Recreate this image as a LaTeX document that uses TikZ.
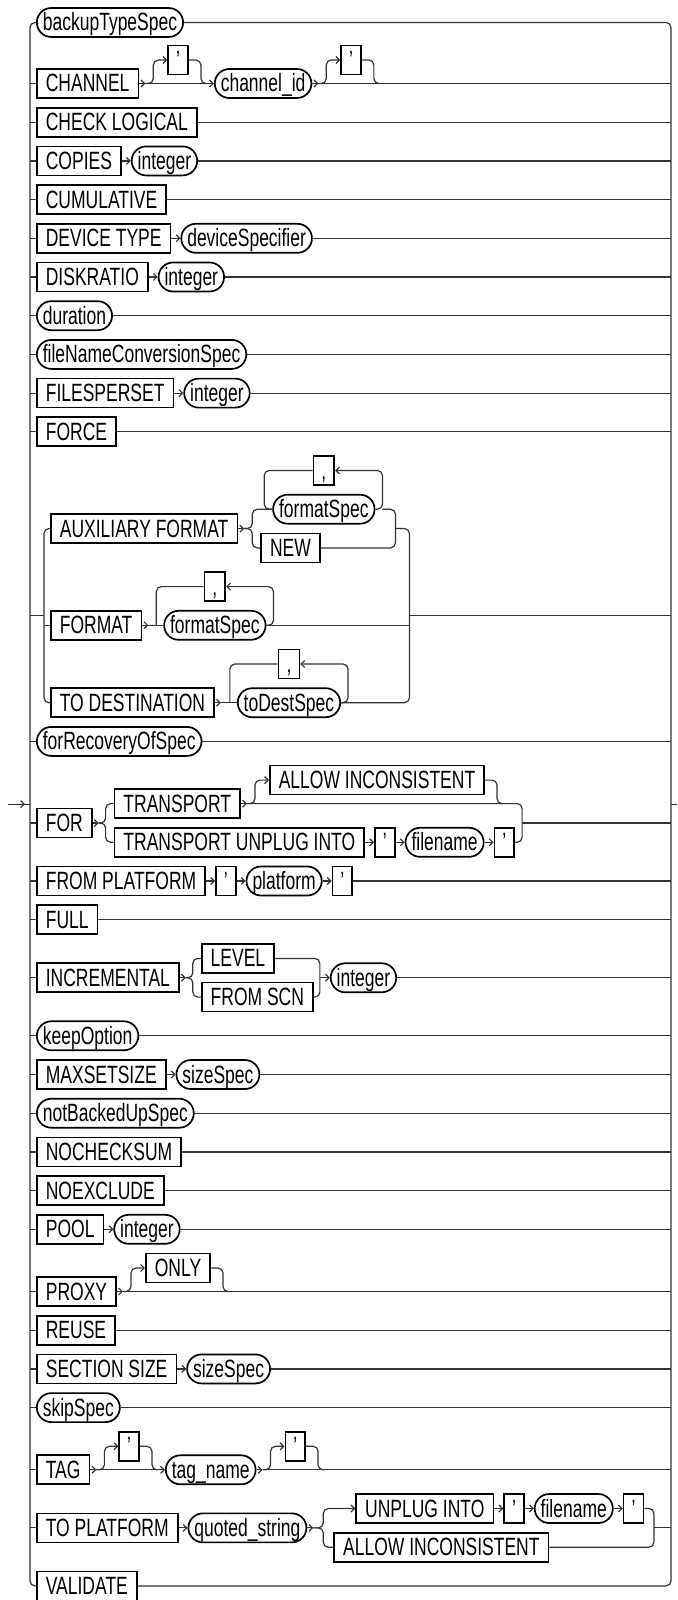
\documentclass[tikz,border=0pt]{standalone}
\usepackage{fontspec}
\setmainfont{Liberation Sans}[FakeStretch=0.7]
\usetikzlibrary{arrows.meta,calc}
\newcommand\rrfont{\fontsize{25pt}{27pt}\selectfont}
\def\xL{30}\def\xR{671}\def\xo{36}\def\gx{50}\def\GL{44}
\def\yyA{22.5}\def\yyBq{60}\def\yyB{83.5}\def\yyC{122.2}\def\yyD{160.9}\def\yyE{199.6}
\def\yyF{238.3}\def\yyG{277}\def\yyH{315.7}\def\yyI{354.4}\def\yyJ{393.1}\def\yyK{431.8}
\def\yyAUXc{470.5}\def\yyAFS{509.2}\def\yyAUX{528.55}\def\yyNEW{547.9}
\def\yyFMTc{586.6}\def\yyFMT{625.3}\def\yyTDc{664}\def\yyTD{702.7}\def\yyGT{615.6}
\def\yyM{741.4}\def\yyAL{780.1}\def\yyTR{803.6}\def\yyTUI{842.3}\def\yyFOR{823}
\def\yyN{881}\def\yyO{919.7}\def\yyLEV{958.4}\def\yySCN{997.1}\def\yyINC{977.75}
\def\yyP{1035.8}\def\yyQ{1074.5}\def\yyR{1113.2}\def\yyS{1151.9}\def\yyTt{1190.6}
\def\yyU{1229.3}\def\yyON{1268}\def\yyPX{1291.5}\def\yyW{1330.2}\def\yyX{1368.9}
\def\yyY{1407.6}\def\yyTGq{1446.3}\def\yyTG{1469.8}\def\yyUP{1508.5}\def\yyALb{1547.2}
\def\yyTP{1527.85}\def\yyV{1585.9}\def\yyT{804.2}\def\tpBR{654}
\newcommand\OptNode[6]{%
  \node[#3] (#2) at ($(#1.east)+(28,#6-#5)$) {#4};
  \draw[ar] (#1.east) -- ++(6,0);
  \draw[rca] ($(#1.east)+(6,0)$) -- ($(#1.east)+(14,0)$) -- ($(#1.east)+(14,#6-#5)$) -- (#2.west);
  \draw[rc] (#2.east) -- ($(#2.east)+(12,0)$) -- ($(#2.east)+(12,#5-#6)$) -- ($(#2.east)+(18,#5-#6)$);
}
\newcommand\Lstub[2]{\draw[ln] (\xL,#2) -- (#1.west);}
\newcommand\Rstub[2]{\draw[ln] (#1.east) -- (\xR,#2);}
\newcommand\Next[4]{\node[#3] (#2) at ($(#1.east)+(9,0)$) {#4};\draw[ar] (#1.east) -- (#2.west);}
\begin{document}
\begin{tikzpicture}[x=1pt,y=-1pt,
  ln/.style={line width=1.2pt,draw=black!80},
  rc/.style={ln,rounded corners=5pt},
  ar/.style={ln,-{Straight Barb[length=3.5pt,width=7pt]}},
  rca/.style={rc,-{Straight Barb[length=3.5pt,width=7pt]}},
  kw/.style={draw=black,line width=1.7pt,rectangle,minimum height=29pt,inner xsep=9pt,inner ysep=0pt,text height=21.5pt,text depth=4.5pt,anchor=west,font=\rrfont},
  nt/.style={kw,rounded corners=14.5pt,inner xsep=6pt},
  q/.style={kw,inner xsep=8pt}]
\useasboundingbox (0,0) rectangle (677,1600);
% outer choice
\node[nt] (bts) at (\xo,\yyA) {backupTypeSpec};
\node[kw] (val) at (\xo,\yyV) {VALIDATE};
\draw[rc] (bts.west) -- (\xL,\yyA) -- (\xL,\yyV) -- (val.west);
\draw[rc] (bts.east) -- (\xR,\yyA) -- (\xR,\yyV) -- (val.east);
\draw[ar] (8,\yyT) -- (25,\yyT);
\draw[ln] (24,\yyT) -- (\xL,\yyT);
\draw[ln] (\xR,\yyT) -- (677,\yyT);
% CHANNEL
\node[kw] (chan) at (\xo,\yyB) {CHANNEL};
\Lstub{chan}{\yyB}
\OptNode{chan}{chq1}{q}{'}{\yyB}{\yyBq}
\node[nt] (chid) at ($(chq1.east)+(25,\yyB-\yyBq)$) {channel\_id};
\draw[ar] ($(chan.east)+(6,0)$) -- (chid.west);
\OptNode{chid}{chq2}{q}{'}{\yyB}{\yyBq}
\draw[ln] ($(chid.east)+(6,0)$) -- (\xR,\yyB);
% simple rows
\node[kw] (chk) at (\xo,\yyC) {CHECK LOGICAL}; \Lstub{chk}{\yyC}\Rstub{chk}{\yyC}
\node[kw] (cop) at (\xo,\yyD) {COPIES}; \Lstub{cop}{\yyD}
\Next{cop}{copi}{nt}{integer}\Rstub{copi}{\yyD}
\node[kw] (cum) at (\xo,\yyE) {CUMULATIVE}; \Lstub{cum}{\yyE}\Rstub{cum}{\yyE}
\node[kw] (dev) at (\xo,\yyF) {DEVICE TYPE}; \Lstub{dev}{\yyF}
\Next{dev}{devs}{nt}{deviceSpecifier}\Rstub{devs}{\yyF}
\node[kw] (dsk) at (\xo,\yyG) {DISKRATIO}; \Lstub{dsk}{\yyG}
\Next{dsk}{dski}{nt}{integer}\Rstub{dski}{\yyG}
\node[nt] (dur) at (\xo,\yyH) {duration}; \Lstub{dur}{\yyH}\Rstub{dur}{\yyH}
\node[nt] (fnc) at (\xo,\yyI) {fileNameConversionSpec}; \Lstub{fnc}{\yyI}\Rstub{fnc}{\yyI}
\node[kw] (fps) at (\xo,\yyJ) {FILESPERSET}; \Lstub{fps}{\yyJ}
\Next{fps}{fpsi}{nt}{integer}\Rstub{fpsi}{\yyJ}
\node[kw] (frc) at (\xo,\yyK) {FORCE}; \Lstub{frc}{\yyK}\Rstub{frc}{\yyK}
% format group: AUXILIARY FORMAT
\node[kw] (aux) at (\gx,\yyAUX) {AUXILIARY FORMAT};
\draw[ar] (aux.east) -- ++(6,0) coordinate (auxJ);
\coordinate (auxB) at ($(aux.east)+(14,0)$);
\node[nt] (afs) at ($(aux.east)+(34,\yyAFS-\yyAUX)$) {formatSpec};
\node[kw] (new) at ($(aux.east)+(22,\yyNEW-\yyAUX)$) {NEW};
\draw[rc] (auxJ) -- (auxB) -- (auxB |- afs.west) -- (afs.west);
\draw[rc] (auxJ) -- (auxB) -- (auxB |- new.west) -- (new.west);
\node[q,anchor=center] (cm1) at ($(afs.center)+(0,\yyAUXc-\yyAFS)$) {,};
\coordinate (aL) at ($(afs.west)+(-8,0)$);
\coordinate (aR) at ($(afs.east)+(7,0)$);
\draw[rca] (afs.east) -- (aR) -- (aR |- cm1.east) -- (cm1.east);
\draw[rc] (cm1.west) -- (aL |- cm1.west) -- (aL) -- (afs.west);
\coordinate (auxBR) at ($(afs.east)+(20,0)$);
\draw[rc] (aR) -- (auxBR) -- (auxBR |- new.east) -- (new.east);
\coordinate (GR) at ($(auxBR)+(14,0)$);
% FORMAT
\node[kw] (fmt) at (\gx,\yyFMT) {FORMAT};
\draw[ar] (fmt.east) -- ++(6,0);
\node[nt] (ffs) at ($(fmt.east)+(21,0)$) {formatSpec};
\draw[ln] ($(fmt.east)+(6,0)$) -- (ffs.west);
\node[q,anchor=center] (cm2) at ($(ffs.center)+(0,\yyFMTc-\yyFMT)$) {,};
\coordinate (fL) at ($(ffs.west)+(-7,0)$);
\coordinate (fR) at ($(ffs.east)+(7,0)$);
\draw[rca] (ffs.east) -- (fR) -- (fR |- cm2.east) -- (cm2.east);
\draw[rc] (cm2.west) -- (fL |- cm2.west) -- (fL);
\draw[ln] (ffs.east) -- (GR |- ffs.east);
% TO DESTINATION
\node[kw] (td) at (\gx,\yyTD) {TO DESTINATION};
\draw[ar] (td.east) -- ++(6,0);
\node[nt] (tds) at ($(td.east)+(22,0)$) {toDestSpec};
\draw[ln] ($(td.east)+(6,0)$) -- (tds.west);
\node[q,anchor=center] (cm3) at ($(tds.center)+(0,\yyTDc-\yyTD)$) {,};
\coordinate (tL) at ($(tds.west)+(-7,0)$);
\coordinate (tR) at ($(tds.east)+(7,0)$);
\draw[rca] (tds.east) -- (tR) -- (tR |- cm3.east) -- (cm3.east);
\draw[rc] (cm3.west) -- (tL |- cm3.west) -- (tL);
% group brackets
\draw[rc] (aux.west) -- (\GL,\yyAUX) -- (\GL,\yyTD) -- (td.west);
\draw[ln] (\GL,\yyFMT) -- (fmt.west);
\draw[ln] (\xL,\yyGT) -- (\GL,\yyGT);
\draw[rc] (auxBR |- aux.east) -- (GR |- aux.east) -- (GR |- tds.east) -- (tds.east);
\coordinate (gt) at (0,\yyGT);
\draw[ln] (GR |- gt) -- (\xR,\yyGT);
% forRecoveryOfSpec
\node[nt] (frs) at (\xo,\yyM) {forRecoveryOfSpec}; \Lstub{frs}{\yyM}\Rstub{frs}{\yyM}
% FOR
\node[kw] (for) at (\xo,\yyFOR) {FOR}; \Lstub{for}{\yyFOR}
\draw[ar] (for.east) -- ++(6,0) coordinate (forJ);
\coordinate (forB) at ($(for.east)+(13,0)$);
\node[kw] (tr) at ($(for.east)+(21,\yyTR-\yyFOR)$) {TRANSPORT};
\node[kw] (tui) at ($(for.east)+(21,\yyTUI-\yyFOR)$) {TRANSPORT UNPLUG INTO};
\draw[rc] (forJ) -- (forB) -- (forB |- tr.west) -- (tr.west);
\draw[rc] (forJ) -- (forB) -- (forB |- tui.west) -- (tui.west);
\OptNode{tr}{allow}{kw}{ALLOW INCONSISTENT}{\yyTR}{\yyAL}
\Next{tui}{tq1}{q}{'}
\Next{tq1}{tfn}{nt}{filename}
\Next{tfn}{tq2}{q}{'}
\coordinate (forBR) at ($(tq2.east)+(7,0)$);
\draw[rc] ($(tr.east)+(6,0)$) -- (forBR |- tr.east) -- (forBR |- tui.east) -- (tq2.east);
\draw[ln] (forBR |- for.east) -- (\xR,\yyFOR);
% FROM PLATFORM
\node[kw] (fpl) at (\xo,\yyN) {FROM PLATFORM}; \Lstub{fpl}{\yyN}
\Next{fpl}{fq1}{q}{'}
\Next{fq1}{fplt}{nt}{platform}
\Next{fplt}{fq2}{q}{'}\Rstub{fq2}{\yyN}
\node[kw] (full) at (\xo,\yyO) {FULL}; \Lstub{full}{\yyO}\Rstub{full}{\yyO}
% INCREMENTAL
\node[kw] (inc) at (\xo,\yyINC) {INCREMENTAL}; \Lstub{inc}{\yyINC}
\draw[ar] (inc.east) -- ++(6,0) coordinate (incJ);
\coordinate (incB) at ($(inc.east)+(13,0)$);
\node[kw] (lev) at ($(inc.east)+(21,\yyLEV-\yyINC)$) {LEVEL};
\node[kw] (scn) at ($(inc.east)+(21,\yySCN-\yyINC)$) {FROM SCN};
\draw[rc] (incJ) -- (incB) -- (incB |- lev.west) -- (lev.west);
\draw[rc] (incJ) -- (incB) -- (incB |- scn.west) -- (scn.west);
\coordinate (incBR) at ($(scn.east)+(6,0)$);
\draw[rc] (lev.east) -- (incBR |- lev.east) -- (incBR |- scn.east) -- (scn.east);
\coordinate (incT) at (incBR |- inc.east);
\node[nt] (inci) at ($(incT)+(10,0)$) {integer};
\draw[ar] (incT) -- (inci.west);
\Rstub{inci}{\yyINC}
% more simple rows
\node[nt] (kop) at (\xo,\yyP) {keepOption}; \Lstub{kop}{\yyP}\Rstub{kop}{\yyP}
\node[kw] (mss) at (\xo,\yyQ) {MAXSETSIZE}; \Lstub{mss}{\yyQ}
\Next{mss}{msss}{nt}{sizeSpec}\Rstub{msss}{\yyQ}
\node[nt] (nbu) at (\xo,\yyR) {notBackedUpSpec}; \Lstub{nbu}{\yyR}\Rstub{nbu}{\yyR}
\node[kw] (nck) at (\xo,\yyS) {NOCHECKSUM}; \Lstub{nck}{\yyS}\Rstub{nck}{\yyS}
\node[kw] (nex) at (\xo,\yyTt) {NOEXCLUDE}; \Lstub{nex}{\yyTt}\Rstub{nex}{\yyTt}
\node[kw] (pool) at (\xo,\yyU) {POOL}; \Lstub{pool}{\yyU}
\Next{pool}{pooli}{nt}{integer}\Rstub{pooli}{\yyU}
% PROXY
\node[kw] (prx) at (\xo,\yyPX) {PROXY}; \Lstub{prx}{\yyPX}
\OptNode{prx}{only}{kw}{ONLY}{\yyPX}{\yyON}
\draw[ln] ($(prx.east)+(6,0)$) -- (\xR,\yyPX);
\node[kw] (reu) at (\xo,\yyW) {REUSE}; \Lstub{reu}{\yyW}\Rstub{reu}{\yyW}
\node[kw] (sec) at (\xo,\yyX) {SECTION SIZE}; \Lstub{sec}{\yyX}
\Next{sec}{secs}{nt}{sizeSpec}\Rstub{secs}{\yyX}
\node[nt] (skp) at (\xo,\yyY) {skipSpec}; \Lstub{skp}{\yyY}\Rstub{skp}{\yyY}
% TAG
\node[kw] (tag) at (\xo,\yyTG) {TAG}; \Lstub{tag}{\yyTG}
\OptNode{tag}{tgq1}{q}{'}{\yyTG}{\yyTGq}
\node[nt] (tgn) at ($(tgq1.east)+(25,\yyTG-\yyTGq)$) {tag\_name};
\draw[ar] ($(tag.east)+(6,0)$) -- (tgn.west);
\OptNode{tgn}{tgq2}{q}{'}{\yyTG}{\yyTGq}
\draw[ln] ($(tgn.east)+(6,0)$) -- (\xR,\yyTG);
% TO PLATFORM
\node[kw] (tp) at (\xo,\yyTP) {TO PLATFORM}; \Lstub{tp}{\yyTP}
\Next{tp}{qs}{nt}{quoted\_string}
\draw[ar] (qs.east) -- ++(6,0) coordinate (tpJ);
\coordinate (tpB) at ($(qs.east)+(16,0)$);
\node[kw] (upi) at ($(qs.east)+(48,\yyUP-\yyTP)$) {UNPLUG INTO};
\node[kw] (alb) at ($(qs.east)+(26,\yyALb-\yyTP)$) {ALLOW INCONSISTENT};
\draw[rca] (tpJ) -- (tpB) -- (tpB |- upi.west) -- (upi.west);
\draw[rc] (tpJ) -- (tpB) -- (tpB |- alb.west) -- (alb.west);
\Next{upi}{uq1}{q}{'}
\Next{uq1}{ufn}{nt}{filename}
\Next{ufn}{uq2}{q}{'}
\draw[rc] (uq2.east) -- (\tpBR,\yyUP) -- (\tpBR,\yyALb) -- (alb.east);
\draw[ln] (\tpBR,\yyTP) -- (\xR,\yyTP);
\end{tikzpicture}
\end{document}
